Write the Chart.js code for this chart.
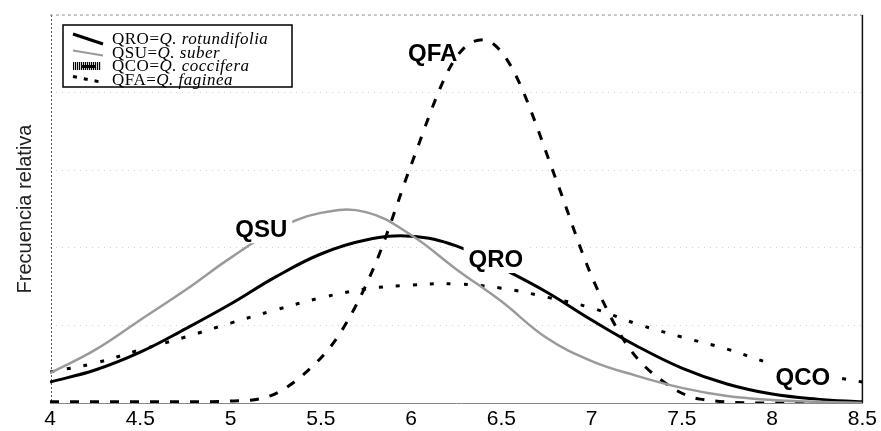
<!DOCTYPE html>
<html>
<head>
<meta charset="utf-8">
<script src="https://cdn.jsdelivr.net/npm/chart.js@4/dist/chart.umd.min.js"></script>
<style>
  body { margin: 0; background: #fff; }
  #chart { display: block; }
</style>
</head>
<body>
<canvas id="chart" width="881" height="431"></canvas>
<script>
// x values (leaf size class) shared by QRO, QSU, QCO
const xGrid = [4, 4.25, 4.5, 4.75, 5, 5.25, 5.5, 5.75, 6, 6.25, 6.5, 6.75, 7, 7.25, 7.5, 7.75, 8, 8.25, 8.5];
const qro = [0.054, 0.085, 0.131, 0.191, 0.255, 0.325, 0.384, 0.420, 0.430, 0.405, 0.348, 0.286, 0.214, 0.147, 0.090, 0.049, 0.023, 0.010, 0.003];
const qsu = [0.077, 0.137, 0.214, 0.291, 0.374, 0.446, 0.490, 0.492, 0.433, 0.345, 0.262, 0.168, 0.108, 0.070, 0.039, 0.018, 0.008, 0.003, 0.0];
const qco = [0.080, 0.103, 0.137, 0.170, 0.206, 0.240, 0.271, 0.294, 0.304, 0.307, 0.296, 0.273, 0.245, 0.204, 0.170, 0.139, 0.101, 0.075, 0.054];
// QFA is narrow, so it gets its own x values
const qfaX = [4, 4.5, 4.8, 5.0, 5.2, 5.4, 5.6, 5.8, 6.0, 6.2, 6.3, 6.4, 6.5, 6.6, 6.8, 7.0, 7.2, 7.4, 7.6, 8.0, 8.5];
const qfa = [0.003, 0.003, 0.003, 0.005, 0.015, 0.072, 0.175, 0.356, 0.613, 0.851, 0.918, 0.936, 0.905, 0.825, 0.580, 0.327, 0.147, 0.054, 0.010, 0.0, 0.0];

const xTicks = [4, 4.5, 5, 5.5, 6, 6.5, 7, 7.5, 8, 8.5];
const yTitle = "Frecuencia relativa";

const legendCodes = ["QRO", "QSU", "QCO", "QFA"];
const legendSpecies = ["Q. rotundifolia", "Q. suber", "Q. coccifera", "Q. faginea"];

const curveNames = ["QSU", "QRO", "QFA", "QCO"];

function pts(xs, ys) {
  return xs.map((x, i) => ({ x: x, y: ys[i] }));
}

// frame: dotted left/top, solid right
const framePlugin = {
  id: "frame",
  beforeDatasetsDraw(chart) {
    const c = chart.ctx, a = chart.chartArea;
    c.save();
    c.lineWidth = 1;
    c.strokeStyle = "#555";
    c.setLineDash([2, 2]);
    c.beginPath(); c.moveTo(a.left + 1.5, a.top); c.lineTo(a.left + 1.5, a.bottom); c.stroke();
    c.strokeStyle = "#999";
    c.setLineDash([3, 3]);
    c.beginPath(); c.moveTo(a.left, a.top); c.lineTo(a.right, a.top); c.stroke();
    c.setLineDash([]);
    c.strokeStyle = "#111";
    c.lineWidth = 1.5;
    c.beginPath(); c.moveTo(a.right, a.top); c.lineTo(a.right, a.bottom); c.stroke();
    c.restore();
  }
};

// curve names + legend box
const labelPlugin = {
  id: "labels",
  afterDatasetsDraw(chart) {
    const c = chart.ctx, a = chart.chartArea;
    const xs = chart.scales.x, ys = chart.scales.y;
    const spots = [[5.17, 0.448, true], [6.47, 0.371, true], [6.12, 0.90, false], [8.17, 0.067, true]];
    c.save();
    c.font = 'bold 24px "Liberation Sans", Arial, sans-serif';
    c.textAlign = "center";
    c.textBaseline = "middle";
    curveNames.forEach((n, i) => {
      const px = xs.getPixelForValue(spots[i][0]);
      const py = ys.getPixelForValue(spots[i][1]);
      const w = c.measureText(n).width;
      if (spots[i][2]) {
        c.fillStyle = "#fff";
        c.fillRect(px - w / 2 - 5, py - 14, w + 10, 28);
      }
      c.fillStyle = "#000";
      c.fillText(n, px, py + 1);
    });

    // legend
    const bx = a.left + 13, by = a.top + 10, bw = 229, bh = 62;
    c.fillStyle = "#fff";
    c.fillRect(bx, by, bw, bh);
    c.strokeStyle = "#000";
    c.lineWidth = 1.5;
    c.strokeRect(bx, by, bw, bh);
    c.textAlign = "left";
    c.textBaseline = "alphabetic";
    legendCodes.forEach((code, i) => {
      const rowY = by + 14 + i * 13.5;
      const sx = bx + 10, ex = bx + 40;
      c.save();
      if (i === 0) {
        c.strokeStyle = "#000"; c.lineWidth = 3;
        c.beginPath(); c.moveTo(sx, rowY - 5); c.lineTo(ex, rowY + 5); c.stroke();
      } else if (i === 1) {
        c.strokeStyle = "#999"; c.lineWidth = 2;
        c.beginPath(); c.moveTo(sx, rowY - 2); c.lineTo(ex, rowY + 3); c.stroke();
      } else if (i === 2) {
        c.fillStyle = "#000";
        for (let k = 0; k < 14; k++) {
          c.fillRect(sx + k * 2, rowY - 4, 1.2, 8);
        }
        c.fillRect(sx + 8, rowY - 1, 14, 3);
      } else {
        c.strokeStyle = "#000"; c.lineWidth = 3;
        c.setLineDash([4, 7]);
        c.beginPath(); c.moveTo(sx, rowY - 3); c.lineTo(ex, rowY + 3); c.stroke();
      }
      c.restore();
      c.fillStyle = "#000";
      c.letterSpacing = "0.5px";
      let tx = bx + 49;
      c.font = '17px "Liberation Serif", "Times New Roman", serif';
      const head = code + "=";
      c.fillText(head, tx, rowY + 5);
      tx += c.measureText(head).width;
      c.font = 'italic 17px "Liberation Serif", "Times New Roman", serif';
      c.fillText(legendSpecies[i], tx, rowY + 5);
      c.letterSpacing = "0px";
    });
    c.restore();
  }
};

const ctx = document.getElementById("chart").getContext("2d");
const chart = new Chart(ctx, {
  type: "line",
  data: {
    datasets: [
      { label: "QSU", data: pts(xGrid, qsu), borderColor: "#9a9a9a", borderWidth: 2.5, tension: 0.4 },
      { label: "QCO", data: pts(xGrid, qco), borderColor: "#000", borderWidth: 3, borderDash: [4, 13], tension: 0.4 },
      { label: "QRO", data: pts(xGrid, qro), borderColor: "#000", borderWidth: 3, tension: 0.4 },
      { label: "QFA", data: pts(qfaX, qfa), borderColor: "#000", borderWidth: 3, borderDash: [9, 11], cubicInterpolationMode: "monotone" }
    ]
  },
  options: {
    responsive: false,
    animation: false,
    layout: { padding: { top: 15, right: 13, left: 0, bottom: 0 } },
    elements: {
      point: { radius: 0 },
      line: { fill: false }
    },
    plugins: {
      legend: { display: false },
      tooltip: { enabled: false }
    },
    scales: {
      x: {
        type: "linear",
        min: 4,
        max: 8.5,
        afterBuildTicks: (s) => { s.ticks = xTicks.map(v => ({ value: v })); },
        afterFit: (s) => { s.height = 28; },
        grid: { display: false, drawTicks: false },
        border: { display: true, color: "#888", width: 1, dash: [6, 2] },
        ticks: {
          padding: 4,
          color: "#000",
          font: { family: '"Liberation Sans", Arial', size: 21 },
          callback: (v) => String(v)
        }
      },
      y: {
        min: 0,
        max: 1,
        afterFit: (s) => { s.width = 50; },
        ticks: { display: false, stepSize: 0.2 },
        grid: { color: "#d0d0d0", lineWidth: 1, drawTicks: false },
        border: { display: false, dash: [1, 5] },
        title: {
          display: true,
          text: yTitle,
          color: "#222",
          padding: { top: 13, bottom: 0 },
          font: { family: '"Liberation Sans", Arial', size: 20 }
        }
      }
    }
  },
  plugins: [framePlugin, labelPlugin]
});
</script>
</body>
</html>
